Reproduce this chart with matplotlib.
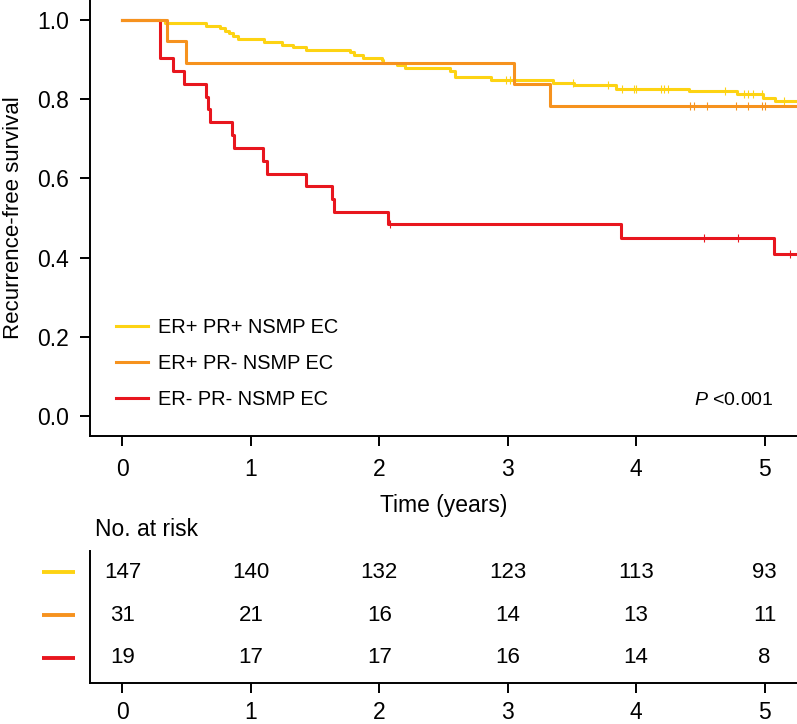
import numpy as np
import matplotlib
matplotlib.use('Agg')
import matplotlib.pyplot as plt

plt.rcParams['font.family'] = ['Liberation Sans', 'DejaVu Sans']
plt.rcParams['mathtext.fontset'] = 'custom'
plt.rcParams['mathtext.it'] = 'Liberation Sans:italic'
plt.rcParams['mathtext.rm'] = 'Liberation Sans'

# Kaplan-Meier steps (time in years, survival after the event)
pp_times = [0.33, 0.652, 0.761, 0.80, 0.83, 0.86, 0.90, 1.10, 1.24, 1.33, 1.43,
            1.77, 1.80, 1.875, 2.02, 2.03, 2.135, 2.20, 2.55, 2.59, 2.87, 3.35,
            3.52, 3.84, 4.41, 4.785, 4.985, 5.08]
pp_surv = [0.993, 0.986, 0.979, 0.973, 0.966, 0.959, 0.952, 0.945, 0.938, 0.932, 0.925,
           0.918, 0.912, 0.905, 0.898, 0.892, 0.886, 0.878, 0.870, 0.857, 0.849, 0.842,
           0.835, 0.827, 0.820, 0.812, 0.803, 0.796]
pp_cens = [2.99, 3.02, 3.51, 3.78, 3.89, 3.98, 4.00, 4.19, 4.22, 4.25, 4.69,
           4.84, 4.87, 4.91, 4.98, 5.15]

pn_times = [0.347, 0.494, 3.046, 3.33]
pn_surv = [0.946, 0.892, 0.839, 0.782]
pn_cens = [4.42, 4.45, 4.55, 4.78, 4.87, 4.98, 5.00]

nn_times = [0.295, 0.393, 0.479, 0.65, 0.665, 0.685, 0.855, 0.87, 1.097, 1.128,
            1.426, 1.628, 1.646, 2.068, 3.88, 5.075]
nn_surv = [0.903, 0.870, 0.838, 0.806, 0.774, 0.742, 0.709, 0.677, 0.645, 0.612,
           0.580, 0.548, 0.516, 0.484, 0.450, 0.409]
nn_cens = [2.086, 4.53, 4.79, 5.20]

labels = ['ER+ PR+ NSMP EC', 'ER+ PR- NSMP EC', 'ER- PR- NSMP EC']
colors = ['#FDD313', '#F6921E', '#E8161E']

risk_times = [0, 1, 2, 3, 4, 5]
risk_pp = [147, 140, 132, 123, 113, 93]
risk_pn = [31, 21, 16, 14, 13, 11]
risk_nn = [19, 17, 17, 16, 14, 8]

t_end = 5.4
xlim = (-0.253, 5.253)
fs = 16.5

fig = plt.figure(figsize=(7.97, 7.24), dpi=100)
W, H = 797, 724
ax = fig.add_axes([90 / W, 1 - 436 / H, 707 / W, 436 / H])
ax_r = fig.add_axes([90 / W, 1 - 683.3 / H, 707 / W, (683.3 - 551) / H])

groups = [(pp_times, pp_surv, pp_cens), (pn_times, pn_surv, pn_cens),
          (nn_times, nn_surv, nn_cens)]
handles = [None] * 3
for i in [0, 2, 1]:
    times, surv, cens = groups[i]
    t = np.array([0] + times + [t_end])
    s = np.array([1.0] + surv + [surv[-1]])
    line, = ax.step(t, s, where='post', color=colors[i], lw=2.2, label=labels[i],
                    zorder=2 + (i == 1))
    handles[i] = line
    idx = np.searchsorted(t, cens, side='right') - 1
    ax.plot(cens, s[idx], ls='none', marker='|', ms=6, mew=0.8, color=colors[i],
            zorder=2 + (i == 1))

ax.set_xlim(*xlim)
ax.set_ylim(-0.0505, 1.0505)
ax.set_xticks(range(6))
ax.set_yticks([0, 0.2, 0.4, 0.6, 0.8, 1.0])
ax.set_yticklabels(['0.0', '0.2', '0.4', '0.6', '0.8', '1.0'])
for a in (ax, ax_r):
    a.spines['top'].set_visible(False)
    a.spines['right'].set_visible(False)
    a.spines['left'].set_linewidth(1.4)
    a.spines['bottom'].set_linewidth(1.4)
ax.tick_params(axis='both', length=7.2, width=1.4, labelsize=fs)
ax.tick_params(axis='x', pad=8.5)
ax.tick_params(axis='y', pad=8)
ax.set_xlabel('Time (years)', fontsize=fs)
ax.xaxis.set_label_coords(0.5, -0.133)
ax.set_ylabel('Recurrence-free survival', fontsize=16)
ax.yaxis.set_label_coords(-0.093, 0.5)

ax.legend(handles=handles, labels=labels, loc='lower left', frameon=False,
          fontsize=14.4, handlelength=1.6, handletextpad=0.5, labelspacing=0.84,
          borderpad=0, borderaxespad=0, bbox_to_anchor=(0.0368, 0.063))
ax.text(5.074, 0.040, r'$P$ <0.001', ha='right', va='center', fontsize=14)

# number at risk table
ax_r.set_xlim(*xlim)
ax_r.set_ylim(0.4, 3.5)
ax_r.set_yticks([])
ax_r.set_xticks(risk_times)
ax_r.tick_params(axis='x', length=7.2, width=1.4, labelsize=fs, pad=5.5)
rows = [risk_pp, risk_pn, risk_nn]
for r, vals in enumerate(rows):
    yrow = 3 - r
    for tx, v in zip(risk_times, vals):
        ax_r.text(tx, yrow, str(v), ha='center', va='center', fontsize=16)
    ax_r.plot([-0.629, -0.37], [yrow, yrow], color=colors[r], lw=2.8,
              clip_on=False, solid_capstyle='butt')
ax_r.text(-0.214, 4.015, 'No. at risk', ha='left', va='center', fontsize=fs,
          clip_on=False)

fig.savefig('out.png', dpi=100)
